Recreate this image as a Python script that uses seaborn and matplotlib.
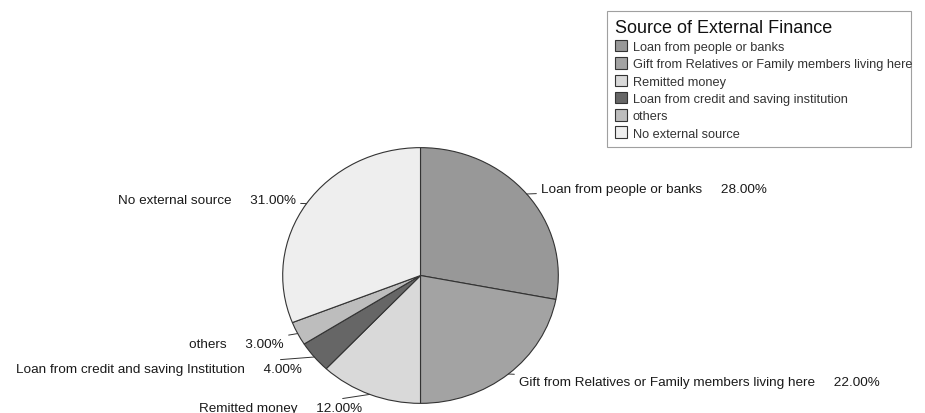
import numpy as np
import matplotlib
matplotlib.use("Agg")
import matplotlib.pyplot as plt
import seaborn as sns

# sources of external finance (share of respondents, %)
sources = ['Loan from people or banks',
           'Gift from Relatives or Family members living here',
           'Remitted money',
           'Loan from credit and saving institution',
           'others',
           'No external source']
# the slice labels in the chart spell a few names a bit differently
slice_names = ['Loan from people or banks',
               'Gift from Relatives or Family members living here',
               'Remitted money',
               'Loan from credit and saving Institution',
               'others',
               'No external source']
shares = [28.0, 22.0, 12.0, 4.0, 3.0, 31.0]
greys = ['#989898', '#a3a3a3', '#d9d9d9', '#666666', '#bdbdbd', '#eeeeee']

# where each slice label sits (figure pixels from top-left) and its anchor side
label_pos = [(541, 190), (519, 383), (362, 409), (302, 370), (284, 345), (296, 201)]
label_ha = ['left', 'left', 'right', 'right', 'right', 'right']

sns.set_theme(style='white')
plt.rcParams['font.family'] = ['Liberation Sans', 'DejaVu Sans']

W, H = 925, 414
fig = plt.figure(figsize=(W / 100, H / 100), dpi=100)
fig.patch.set_facecolor('white')

# pie is slightly squashed in the scan, so give it its own axes with auto aspect
ax = fig.add_axes([282 / W, (H - 405) / H, 277 / W, 257 / H])
wedges, _ = ax.pie(shares, colors=greys, startangle=90, counterclock=False,
                   wedgeprops=dict(edgecolor='#333333', linewidth=0.8))
ax.set_xlim(-1.005, 1.005)
ax.set_ylim(-1.005, 1.005)
ax.set_aspect('auto')
ax.axis('off')

for w, name, val, (px, py), ha in zip(wedges, slice_names, shares, label_pos, label_ha):
    mid = np.deg2rad((w.theta1 + w.theta2) / 2)
    edge = (np.cos(mid), np.sin(mid))
    ax.annotate(f'{name}     {val:.2f}%', xy=edge, xycoords='data',
                xytext=(px, H - py), textcoords='figure pixels',
                ha=ha, va='center', fontsize=9.7, color='#1a1a1a',
                arrowprops=dict(arrowstyle='-', color='#333333', lw=0.7,
                                shrinkA=1, shrinkB=0))

leg = fig.legend(wedges, sources, title='Source of External Finance',
                 loc='upper left',
                 bbox_to_anchor=(607 / W, (H - 145) / H, 304 / W, 133 / H),
                 mode='expand', fontsize=9.2, title_fontsize=13,
                 alignment='left', frameon=True, fancybox=False,
                 handlelength=1.0, handleheight=1.0, handletextpad=0.4,
                 labelspacing=0.33, borderpad=0.6, borderaxespad=0)
leg.get_frame().set_edgecolor('#888888')
leg.get_frame().set_linewidth(0.8)
for t in leg.get_texts():
    t.set_color('#333333')
leg.get_title().set_color('#111111')

fig.savefig('out.png', dpi=100, facecolor='white')
